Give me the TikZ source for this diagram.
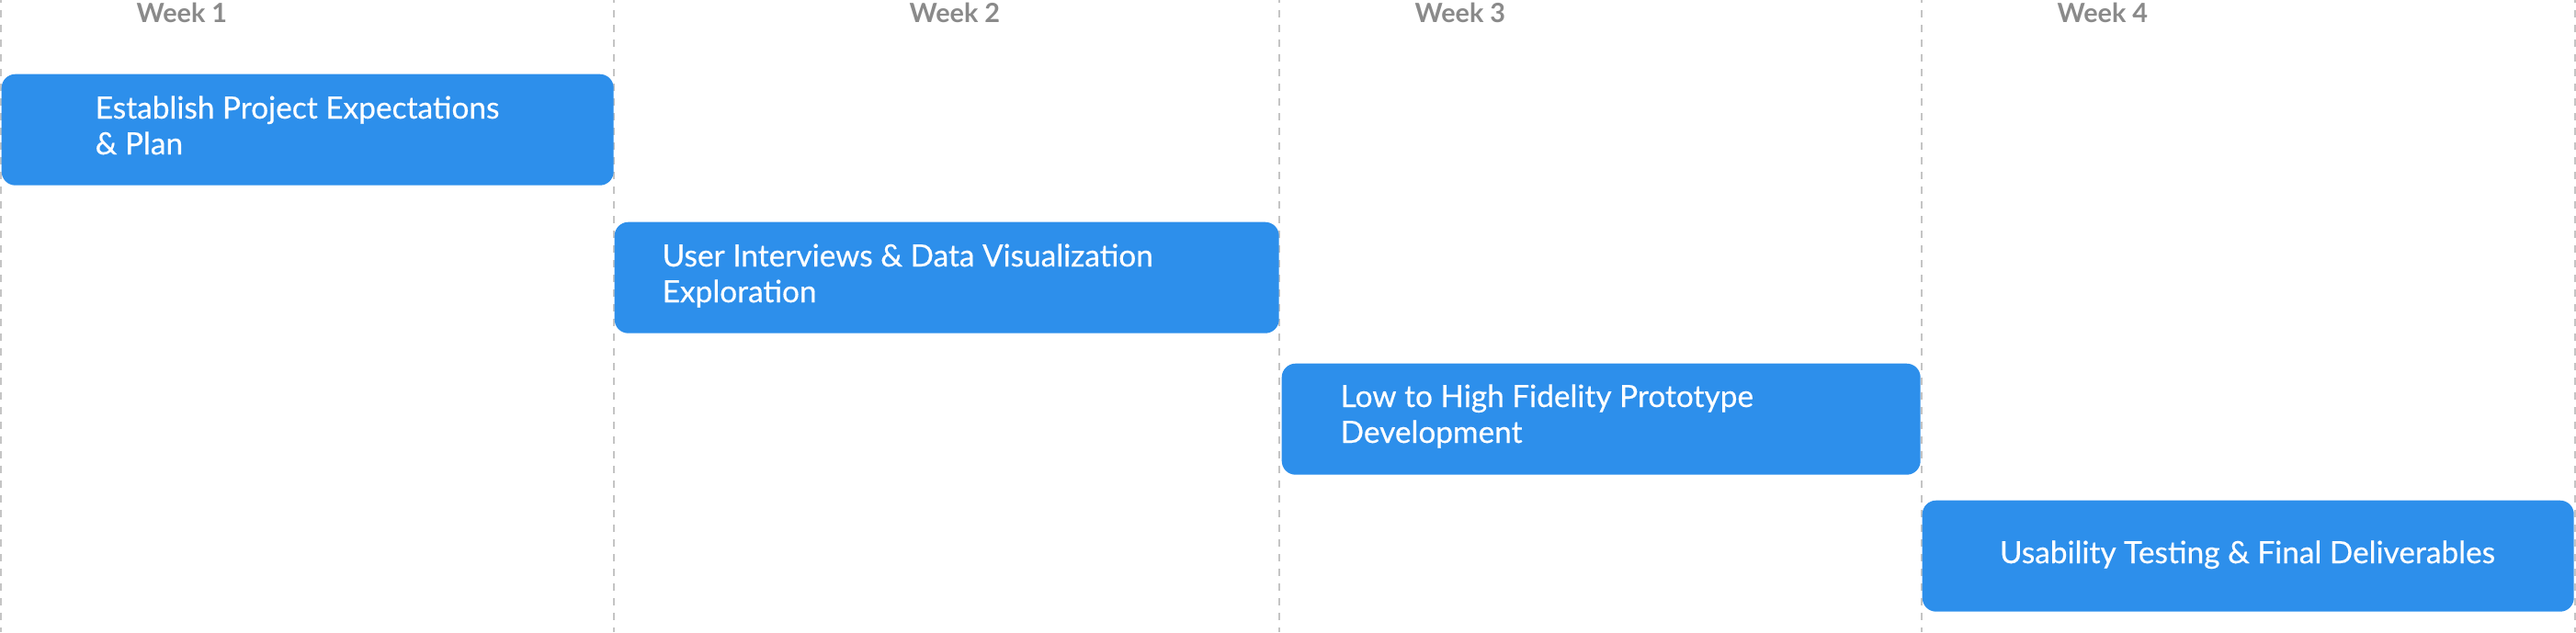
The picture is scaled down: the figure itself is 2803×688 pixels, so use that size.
\documentclass[tikz,border=0pt]{standalone}
\usepackage{fontspec}
\setmainfont{Lato}
\newfontfamily\taskfont{Lato}[FakeBold=0.4]
\definecolor{taskblue}{HTML}{2D8FEB}
\definecolor{weekgray}{HTML}{8A8A8A}
\definecolor{gridgray}{HTML}{C4C4C4}
\begin{document}
\begin{tikzpicture}[x=0.1mm, y=-0.1mm, line join=round,
	taskbox/.style={fill=taskblue, rounded corners=1.5mm, inner sep=0pt, anchor=north west, minimum height=12.1mm},
	tasklabel/.style={text=white, font=\taskfont\fontsize{9.5}{11.1}\selectfont, align=left, inner sep=0pt, anchor=base west},
	weeklabel/.style={text=weekgray, font=\fontsize{8.2}{9}\selectfont\bfseries, inner sep=0pt, anchor=base west},
	weekline/.style={gridgray, line width=0.2mm, dash pattern=on 0.8mm off 0.8mm, dash phase=0.5mm}]
	\useasboundingbox (0,0) rectangle (2803,688);
	% Lignes des semaines
	\foreach \gx in {1,668,1392,2091,2801.5}
		\draw[weekline] (\gx,0) -- (\gx,688);
	% Titres des semaines
	\node[weeklabel] (w1) at (148,24) {Week 1};
	\node[weeklabel] (w2) at (989,24) {Week 2};
	\node[weeklabel] (w3) at (1539,24) {Week 3};
	\node[weeklabel] (w4) at (2238,24) {Week 4};
	% Barres des taches
	\node[taskbox, minimum width=66.6mm] (t1) at (1,80) {};
	\node[taskbox, minimum width=72.3mm] (t2) at (668,241) {};
	\node[taskbox, minimum width=69.5mm] (t3) at (1394,395) {};
	\node[taskbox, minimum width=70.9mm] (t4) at (2091,544) {};
	% (base = derniere ligne)
	\node[tasklabel] (l1) at (103,168) {Establish Project Expectations\\\& Plan};
	\node[tasklabel] (l2) at (720,329) {User Interviews \& Data Visualization\\Exploration};
	\node[tasklabel] (l3) at (1458,482) {Low to High Fidelity Prototype\\Development};
	\node[tasklabel, anchor=base] (l4) at (2445.5,613) {Usability Testing \& Final Deliverables};
\end{tikzpicture}
\end{document}
